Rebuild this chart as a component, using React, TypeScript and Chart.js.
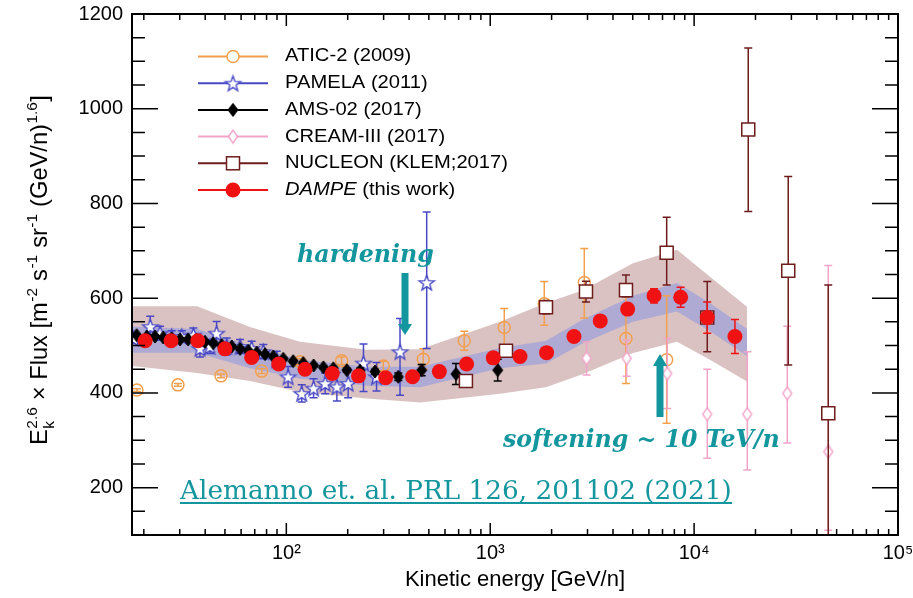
import React, { useEffect, useRef } from 'react';
import { Chart, registerables } from 'chart.js';

Chart.register(...registerables);

const SANS = '"Liberation Sans", Arial, Helvetica, sans-serif';
const SERIF = '"DejaVu Serif", "Liberation Serif", serif';
const TEAL = '#13969d';

// ---------------- data (GeV/n, E^2.6 x Flux) ----------------
const dampeE = [20.3, 27.2, 36.8, 50.0, 67.6, 91.7, 123.5, 168, 226, 307, 416, 563, 766, 1035, 1400, 1890, 2575, 3465, 4720, 6360, 8590, 11600, 15860];
const dampeFlux = [510, 510, 510, 493, 475, 461, 450, 441, 436, 432, 434, 445, 461, 474, 477, 485, 519, 552, 577, 605, 602, 559, 519];
const dampeErr = [3, 3, 3, 3, 3, 3, 3, 3, 3, 3, 3, 4, 4, 5, 5, 6, 7, 8, 10, 15, 21, 33, 36];

const aticE = [18.5, 29.4, 47.8, 75.7, 116.7, 186.8, 298.9, 469.5, 745.8, 1172, 1841, 2893, 4632, 7336];
const aticFlux = [406, 417, 436, 446, 466, 468, 457, 471, 510, 538, 588, 633, 515, 470];
const aticErrUp = [3, 3, 4, 5, 6, 8, 10, 22, 20, 40, 47, 72, 92, 135];
const aticErrDown = [3, 3, 4, 5, 6, 8, 10, 20, 20, 40, 45, 75, 95, 134];

const pamelaE = [17.8, 21.5, 24.0, 27.4, 30.7, 35.0, 37.7, 42.2, 45.5, 51.0, 59.3, 67.6, 77.1, 89.7, 102, 119, 136, 155, 177, 201, 239, 277, 361, 488];
const pamelaFlux = [515, 540, 526, 519, 519, 522, 494, 498, 526, 498, 498, 494, 487, 470, 434, 399, 410, 420, 413, 420, 463, 434, 487, 633];
const pamelaErrUp = [10, 22, 15, 12, 12, 15, 18, 15, 25, 18, 15, 15, 15, 18, 22, 18, 20, 22, 30, 30, 40, 30, 70, 149];
const pamelaErrDown = [10, 22, 15, 12, 12, 15, 18, 15, 25, 18, 15, 15, 15, 18, 22, 18, 20, 22, 30, 30, 60, 30, 92, 139];

const amsE = [18.45, 20.7, 22.7, 24.9, 27.4, 30.1, 33.0, 36.3, 39.9, 43.8, 48.2, 54.0, 59.3, 65.1, 71.5, 78.6, 86.3, 96.6, 108, 121, 136, 152, 170, 198, 230, 272, 354, 461, 679, 1088];
const amsFlux = [522, 519, 519, 517, 515, 513, 513, 512, 508, 505, 501, 498, 493, 489, 485, 482, 477, 472, 467, 463, 458, 454, 452, 448, 447, 445, 434, 448, 440, 448];
const amsErr = [3, 3, 3, 3, 3, 3, 3, 3, 3, 3, 3, 3, 3, 3, 3, 3, 3, 3, 3, 3, 3, 3, 4, 4, 5, 5, 8, 12, 22, 23];

const creamE = [2970, 4670, 7385, 11600, 18230, 28630, 45500];
const creamFlux = [473, 473, 441, 355, 355, 399, 276];
const creamErrUp = [35, 38, 74, 95, 132, 142, 393];
const creamErrDown = [35, 38, 74, 93, 118, 105, 166];

const nucleonE = [760, 1195, 1877, 2949, 4632, 7336, 11600, 18430, 28950, 45500];
const nucleonFlux = [425, 489, 581, 614, 617, 696, 559, 956, 658, 357];
const nucleonErrUp = [10, 12, 14, 22, 32, 75, 76, 172, 199, 271];
const nucleonErrDown = [10, 12, 14, 22, 14, 68, 72, 173, 199, 257];

const bandE = [17.5, 36.5, 66.3, 116.7, 247.8, 452.5, 1116, 1877, 2850, 5013, 8240, 11960, 18160];
const outerHi = [583, 583, 539, 508, 491, 492, 550, 590, 617, 674, 702, 645, 582];
const outerLo = [457, 442, 425, 402, 388, 380, 398, 412, 440, 484, 508, 470, 424];
const innerHi = [540, 535, 500, 470, 455, 455, 495, 510, 555, 605, 632, 590, 535];
const innerLo = [485, 485, 452, 430, 415, 412, 452, 462, 505, 550, 572, 530, 478];

const xTickValues = [100, 1000, 10000, 100000];
const xTickLabels = ['10\u00b2', '10\u00b3', '10\u2074', '10\u2075'];
const yTickValues = [200, 400, 600, 800, 1000, 1200];

const legendLabels = ['ATIC-2 (2009)', 'PAMELA (2011)', 'AMS-02 (2017)', 'CREAM-III (2017)', 'NUCLEON (KLEM;2017)', 'DAMPE'];

const X_MIN = 17.5, X_MAX = 1e5, Y_MIN = 100, Y_MAX = 1200;

const C = {
  atic: '#f3a04e',
  pamela: '#4848c6',
  ams: '#000000',
  cream: '#f2a4c8',
  nucleon: '#6e1c1c',
  dampe: '#f01212',
  outer: '#dac2c2',
  inner: '#aeaad4',
};

function pts(E: number[], F: number[]) {
  return E.map((e, i) => ({ x: e, y: F[i] }));
}

function makeStar(color: string, R: number, r: number, lw: number) {
  const size = Math.ceil(2 * R + 2 * lw + 2);
  const c = document.createElement('canvas');
  c.width = size; c.height = size;
  const g = c.getContext('2d')!;
  const cx = size / 2, cy = size / 2 + 0.8;
  g.beginPath();
  for (let i = 0; i < 10; i++) {
    const ang = -Math.PI / 2 + (i * Math.PI) / 5;
    const rad = i % 2 === 0 ? R : r;
    const px = cx + rad * Math.cos(ang), py = cy + rad * Math.sin(ang);
    if (i === 0) g.moveTo(px, py); else g.lineTo(px, py);
  }
  g.closePath();
  g.fillStyle = '#ffffff';
  g.fill();
  g.strokeStyle = color; g.lineWidth = lw; g.lineJoin = 'miter';
  g.stroke();
  return c;
}

function makeDiamond(w: number, h: number, stroke: string, fill: string, lw: number) {
  const cw = Math.ceil(w + 2 * lw + 2), ch = Math.ceil(h + 2 * lw + 2);
  const c = document.createElement('canvas');
  c.width = cw; c.height = ch;
  const g = c.getContext('2d')!;
  const cx = cw / 2, cy = ch / 2;
  g.beginPath();
  g.moveTo(cx, cy - h / 2); g.lineTo(cx + w / 2, cy); g.lineTo(cx, cy + h / 2); g.lineTo(cx - w / 2, cy);
  g.closePath();
  g.fillStyle = fill; g.fill();
  g.strokeStyle = stroke; g.lineWidth = lw; g.stroke();
  return c;
}

function fitText(ctx: CanvasRenderingContext2D, text: string, style: string, family: string, x: number, y: number, width: number) {
  const base = 24;
  ctx.font = `${style} ${base}px ${family}`;
  const w = ctx.measureText(text).width;
  const size = (base * width) / w;
  ctx.font = `${style} ${size}px ${family}`;
  ctx.fillText(text, x, y);
}

function drawYTitle(ctx: CanvasRenderingContext2D, cx: number, cy: number, length: number) {
  const segs = [
    { t: 'E', k: 'n' },
    { t: '2.6', s: 'k', k: 'ss' },
    { t: ' \u00d7 Flux [m', k: 'n' },
    { t: '-2', k: 'sup' },
    { t: ' s', k: 'n' },
    { t: '-1', k: 'sup' },
    { t: ' sr', k: 'n' },
    { t: '-1', k: 'sup' },
    { t: ' (GeV/n)', k: 'n' },
    { t: '1.6', k: 'sup' },
    { t: ']', k: 'n' },
  ] as any[];
  const widthOf = (size: number) => {
    let w = 0;
    for (const sg of segs) {
      if (sg.k === 'n') { ctx.font = `${size}px ${SANS}`; w += ctx.measureText(sg.t).width; }
      else {
        ctx.font = `${size * 0.65}px ${SANS}`;
        let sw = ctx.measureText(sg.t).width;
        if (sg.s) sw = Math.max(sw, ctx.measureText(sg.s).width);
        w += sw + size * 0.04;
      }
    }
    return w;
  };
  const size = (20 * length) / widthOf(20);
  const total = widthOf(size);
  ctx.save();
  ctx.translate(cx, cy);
  ctx.rotate(-Math.PI / 2);
  ctx.fillStyle = '#000';
  ctx.textBaseline = 'alphabetic';
  ctx.textAlign = 'left';
  const by = size * 0.35;
  let x = -total / 2;
  for (const sg of segs) {
    if (sg.k === 'n') {
      ctx.font = `${size}px ${SANS}`;
      ctx.fillText(sg.t, x, by);
      x += ctx.measureText(sg.t).width;
    } else {
      ctx.font = `${size * 0.65}px ${SANS}`;
      x += size * 0.02;
      ctx.fillText(sg.t, x, by - size * 0.42);
      let sw = ctx.measureText(sg.t).width;
      if (sg.s) {
        ctx.fillText(sg.s, x, by + size * 0.27);
        sw = Math.max(sw, ctx.measureText(sg.s).width);
      }
      x += sw + size * 0.02;
    }
  }
  ctx.restore();
}

export default function App() {
  const ref = useRef<HTMLCanvasElement>(null);

  useEffect(() => {
    const canvas = ref.current!;
    const starImg = makeStar(C.pamela, 8, 3.3, 1.4);
    const amsImg = makeDiamond(10, 13, C.ams, C.ams, 1);
    const creamImg = makeDiamond(9, 13, C.cream, '#ffffff', 1.4);

    const errorBars = {
      id: 'errorBars',
      beforeDatasetDraw(chart: any, args: any) {
        const ds: any = chart.data.datasets[args.index];
        if (!ds.errUp) return;
        const { ctx, chartArea: a } = chart;
        const xs = chart.scales.x, ys = chart.scales.y;
        ctx.save();
        ctx.beginPath();
        ctx.rect(a.left, a.top, a.right - a.left, a.bottom - a.top);
        ctx.clip();
        ctx.strokeStyle = ds.errColor;
        ctx.lineWidth = 1.5;
        ds.data.forEach((p: any, i: number) => {
          const x = xs.getPixelForValue(p.x);
          const yt = ys.getPixelForValue(p.y + ds.errUp[i]);
          const yb = ys.getPixelForValue(p.y - ds.errDown[i]);
          ctx.beginPath();
          ctx.moveTo(x, yt); ctx.lineTo(x, yb);
          ctx.moveTo(x - 4, yt); ctx.lineTo(x + 4, yt);
          ctx.moveTo(x - 4, yb); ctx.lineTo(x + 4, yb);
          ctx.stroke();
        });
        ctx.restore();
      },
    };

    const decor = {
      id: 'decor',
      afterDraw(chart: any) {
        const { ctx, chartArea: a } = chart;
        const xs = chart.scales.x, ys = chart.scales.y;
        ctx.save();
        // ticks (inward, all four sides)
        ctx.strokeStyle = '#000';
        ctx.lineWidth = 1.5;
        ctx.beginPath();
        for (let d = 1; d <= 5; d++) {
          for (let k = 1; k <= 9; k++) {
            const v = k * Math.pow(10, d);
            if (v <= X_MIN || v >= X_MAX) continue;
            const px = xs.getPixelForValue(v);
            const len = k === 1 ? 12 : 6;
            ctx.moveTo(px, a.bottom); ctx.lineTo(px, a.bottom - len);
            ctx.moveTo(px, a.top); ctx.lineTo(px, a.top + len);
          }
        }
        for (let v = Y_MIN + 50; v < Y_MAX; v += 50) {
          const py = ys.getPixelForValue(v);
          const len = v % 200 === 0 ? 26 : 13;
          ctx.moveTo(a.left, py); ctx.lineTo(a.left + len, py);
          ctx.moveTo(a.right, py); ctx.lineTo(a.right - len, py);
        }
        ctx.stroke();
        ctx.lineWidth = 2;
        ctx.strokeRect(a.left, a.top, a.right - a.left, a.bottom - a.top);

        // legend
        const colors = [C.atic, C.pamela, C.ams, C.cream, C.nucleon, C.dampe];
        const y0 = 56.5, dy = 26.7;
        for (let i = 0; i < legendLabels.length; i++) {
          const y = y0 + i * dy;
          ctx.strokeStyle = colors[i];
          ctx.lineWidth = 2;
          ctx.beginPath(); ctx.moveTo(198, y); ctx.lineTo(268, y); ctx.stroke();
          const mx = 233;
          if (i === 0) {
            ctx.beginPath(); ctx.arc(mx, y, 6, 0, Math.PI * 2);
            ctx.fillStyle = '#fff'; ctx.fill();
            ctx.lineWidth = 1.5; ctx.stroke();
          } else if (i === 1) {
            ctx.drawImage(starImg, mx - starImg.width / 2, y - starImg.height / 2);
          } else if (i === 2) {
            ctx.drawImage(amsImg, mx - amsImg.width / 2, y - amsImg.height / 2);
          } else if (i === 3) {
            ctx.drawImage(creamImg, mx - creamImg.width / 2, y - creamImg.height / 2);
          } else if (i === 4) {
            ctx.fillStyle = '#fff'; ctx.fillRect(mx - 6.5, y - 6.5, 13, 13);
            ctx.lineWidth = 1.5; ctx.strokeRect(mx - 6.5, y - 6.5, 13, 13);
          } else {
            ctx.beginPath(); ctx.arc(mx, y, 7.5, 0, Math.PI * 2);
            ctx.fillStyle = colors[i]; ctx.fill();
          }
          ctx.save();
          ctx.translate(285, y);
          ctx.scale(1.12, 1);
          ctx.fillStyle = '#000';
          ctx.textBaseline = 'middle';
          ctx.textAlign = 'left';
          if (i === 5) {
            ctx.font = `italic 18px ${SANS}`;
            ctx.fillText('DAMPE', 0, 0);
            const w = ctx.measureText('DAMPE').width;
            ctx.font = `18px ${SANS}`;
            ctx.fillText(' (this work)', w, 0);
          } else {
            ctx.font = `18px ${SANS}`;
            ctx.fillText(legendLabels[i], 0, 0);
          }
          ctx.restore();
        }

        // y-axis title
        drawYTitle(ctx, 39, 270, 350);

        // annotations
        ctx.fillStyle = TEAL;
        ctx.textBaseline = 'alphabetic';
        ctx.textAlign = 'left';
        fitText(ctx, 'hardening', 'italic bold', SERIF, 297, 262, 137);
        fitText(ctx, 'softening ~ 10 TeV/n', 'italic bold', SERIF, 503, 447, 277);
        fitText(ctx, 'Alemanno et. al. PRL 126, 201102 (2021)', '', SERIF, 180, 499, 552);
        ctx.fillRect(180, 502, 552, 2);
        // down arrow (hardening)
        ctx.fillRect(401.5, 273, 7, 53);
        ctx.beginPath(); ctx.moveTo(398, 324); ctx.lineTo(412, 324); ctx.lineTo(405, 335); ctx.closePath(); ctx.fill();
        // up arrow (softening)
        ctx.fillRect(656.5, 364, 7, 53);
        ctx.beginPath(); ctx.moveTo(653, 366); ctx.lineTo(667, 366); ctx.lineTo(660, 354); ctx.closePath(); ctx.fill();
        ctx.restore();
      },
    };

    const chart = new Chart(canvas, {
      type: 'scatter',
      data: {
        datasets: [
          { type: 'line', data: pts(bandE, outerHi), borderWidth: 0, borderColor: 'transparent', pointRadius: 0, fill: '+1', backgroundColor: C.outer, tension: 0, order: 20 } as any,
          { type: 'line', data: pts(bandE, outerLo), borderWidth: 0, borderColor: 'transparent', pointRadius: 0, fill: false, tension: 0, order: 19 },
          { type: 'line', data: pts(bandE, innerHi), borderWidth: 0, borderColor: 'transparent', pointRadius: 0, fill: '+1', backgroundColor: C.inner, tension: 0, order: 18 },
          { type: 'line', data: pts(bandE, innerLo), borderWidth: 0, borderColor: 'transparent', pointRadius: 0, fill: false, tension: 0, order: 17 },
          {
            label: 'ATIC-2 (2009)', data: pts(aticE, aticFlux), pointStyle: 'circle', pointRadius: 6, borderWidth: 1.5,
            pointBorderColor: C.atic, pointBackgroundColor: 'rgba(255,255,255,0)', showLine: false, order: 8,
            errUp: aticErrUp, errDown: aticErrDown, errColor: C.atic,
          },
          {
            label: 'PAMELA (2011)', data: pts(pamelaE, pamelaFlux), pointStyle: starImg, pointRadius: 7, showLine: false, order: 7,
            errUp: pamelaErrUp, errDown: pamelaErrDown, errColor: C.pamela,
          },
          {
            label: 'AMS-02 (2017)', data: pts(amsE, amsFlux), pointStyle: amsImg, pointRadius: 6, showLine: false, order: 6,
            errUp: amsErr, errDown: amsErr, errColor: C.ams,
          },
          {
            label: 'CREAM-III (2017)', data: pts(creamE, creamFlux), pointStyle: creamImg, pointRadius: 6, showLine: false, order: 5,
            errUp: creamErrUp, errDown: creamErrDown, errColor: C.cream,
          },
          {
            label: 'NUCLEON (KLEM;2017)', data: pts(nucleonE, nucleonFlux), pointStyle: 'rect', pointRadius: 9.2, borderWidth: 1.5,
            pointBorderColor: C.nucleon, pointBackgroundColor: '#ffffff', showLine: false, order: 4,
            errUp: nucleonErrUp, errDown: nucleonErrDown, errColor: C.nucleon,
          },
          {
            label: 'DAMPE (this work)', data: pts(dampeE, dampeFlux), pointStyle: 'circle', pointRadius: 7.5, borderWidth: 0,
            pointBorderColor: C.dampe, pointBackgroundColor: C.dampe, showLine: false, order: 3,
            errUp: dampeErr, errDown: dampeErr, errColor: C.dampe,
          },
        ] as any,
      },
      options: {
        responsive: false,
        animation: false,
        devicePixelRatio: 1,
        events: [],
        layout: { padding: { left: 0, top: 14, right: 15, bottom: 0 } },
        plugins: { legend: { display: false }, tooltip: { enabled: false } },
        scales: {
          x: {
            type: 'logarithmic',
            position: 'bottom',
            min: X_MIN,
            max: X_MAX,
            grid: { display: false, drawTicks: false },
            border: { display: false },
            ticks: {
              autoSkip: false,
              maxRotation: 0,
              padding: 6,
              color: '#000',
              font: { family: SANS, size: 20 },
              callback: (_v: any, i: number) => xTickLabels[i],
            },
            afterBuildTicks: (s: any) => { s.ticks = xTickValues.map((v) => ({ value: v })); },
            afterFit: (s: any) => { s.height = 63; s.paddingLeft = 0; s.paddingRight = 0; s.paddingTop = 0; s.paddingBottom = 0; },
            title: { display: true, text: 'Kinetic energy [GeV/n]', color: '#000', font: { family: SANS, size: 22 }, padding: { top: 0, bottom: 5 } },
          },
          y: {
            type: 'linear',
            min: Y_MIN,
            max: Y_MAX,
            grid: { display: false, drawTicks: false },
            border: { display: false },
            ticks: { padding: 9, color: '#000', font: { family: SANS, size: 20 }, callback: (v: any) => String(v) },
            afterBuildTicks: (s: any) => { s.ticks = yTickValues.map((v) => ({ value: v })); },
            afterFit: (s: any) => { s.width = 132; s.paddingLeft = 0; s.paddingRight = 0; s.paddingTop = 0; s.paddingBottom = 0; },
          },
        },
      } as any,
      plugins: [errorBars, decor],
    });
    return () => chart.destroy();
  }, []);

  return (
    <div style={{ position: 'absolute', left: 0, top: 0, width: 913, height: 598, background: '#ffffff' }}>
      <canvas ref={ref} width={913} height={598} style={{ display: 'block', width: 913, height: 598 }} />
    </div>
  );
}
